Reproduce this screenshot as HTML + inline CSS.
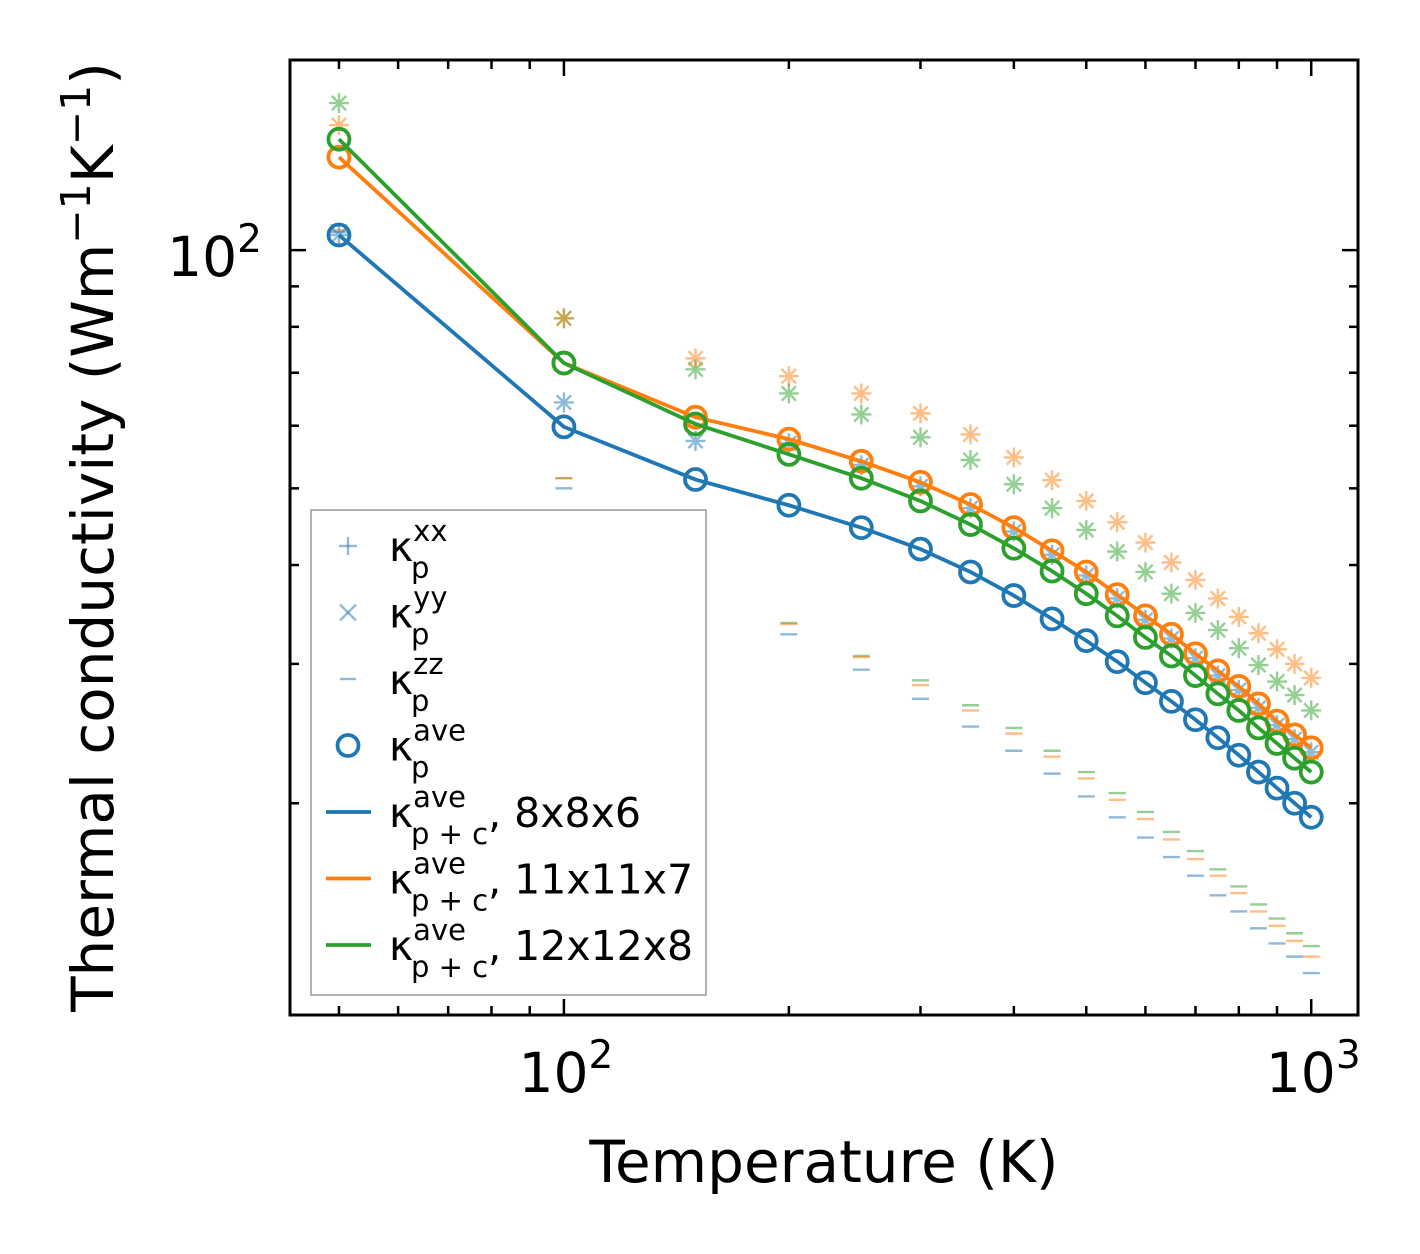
<!DOCTYPE html>
<html><head><meta charset="utf-8"><style>
body{margin:0;background:#fff}
svg{display:block;font-family:"DejaVu Sans","Liberation Sans",sans-serif}
</style></head><body>
<svg id="chart" width="1420" height="1254" viewBox="0 0 1420 1254" xmlns="http://www.w3.org/2000/svg">
<rect width="1420" height="1254" fill="#fff"/>
<g id="marks"></g>
<rect x="290" y="60" width="1068" height="955" fill="none" stroke="#000" stroke-width="3"/>
<g id="ticks"></g>
<text x="824" y="1182" font-size="58" text-anchor="middle">Temperature (K)</text>
<text transform="translate(113,537) rotate(-90)" font-size="58" text-anchor="middle">Thermal conductivity (Wm<tspan dy="-23" font-size="41">−1</tspan><tspan dy="23">K</tspan><tspan dy="-23" font-size="41">−1</tspan><tspan dy="23">)</tspan></text>
<g id="legend"></g>
</svg>
<script>
const temps=[50,100,150,200,250,300,350,400,450,500,550,600,650,700,750,800,850,900,950,1000];
const aveBlue=[104.5,59.8,51.3,47.6,44.6,41.9,39.2,36.6,34.2,32.1,30.2,28.4,26.9,25.5,24.2,23.0,21.9,20.9,20.0,19.2];
const aveOrange=[131.1,72.0,61.5,57.7,54.1,50.9,47.7,44.6,41.7,39.2,36.7,34.5,32.7,30.9,29.4,28.1,26.7,25.4,24.4,23.5];
const aveGreen=[138.1,72.0,60.3,55.2,51.5,48.2,45.0,42.0,39.3,36.8,34.5,32.4,30.7,29.0,27.5,26.2,24.9,23.8,22.8,21.9];
const xyBlue=[104.5,64.2,57.4,57.0,53.5,50.3,47.2,44.1,41.2,38.8,36.3,34.1,32.3,30.5,29.0,27.8,26.4,25.1,24.1,23.2];
const xyOrange=[143.9,82.0,73.0,69.3,65.9,62.2,58.5,54.7,51.2,48.2,45.3,42.7,40.3,38.3,36.3,34.4,32.8,31.3,30.0,28.8];
const xyGreen=[153.4,82.0,70.7,65.9,62.0,58.0,54.3,50.6,47.2,44.3,41.6,39.2,36.8,34.8,33.1,31.4,29.9,28.5,27.4,26.2];
const zzBlue=[105.4,50.0,37.9,32.7,29.5,27.1,25.0,23.3,21.8,20.4,19.2,18.1,17.1,16.2,15.3,14.6,13.9,13.3,12.8,12.2];
const zzOrange=[106.0,51.5,38.7,33.7,30.6,28.2,26.2,24.5,22.9,21.5,20.2,19.1,18.0,17.0,16.2,15.4,14.6,14.0,13.4,12.8];
const zzGreen=[107.5,51.5,39.1,33.8,30.7,28.6,26.6,24.9,23.3,21.9,20.6,19.5,18.4,17.4,16.5,15.7,14.9,14.3,13.7,13.2];
const xMinorTicks=[50,60,70,80,90,200,300,400,500,600,700,800,900];
const xMajorTicks=[100,1000];
const yMinorTicks=[20,30,40,50,60,70,80,90];
const yMajorTicks=[100];

const NS="http://www.w3.org/2000/svg";
const X0=290,X1=1358,Y0=60,Y1=1015;
const xLo=Math.log10(43.0),xHi=Math.log10(1155);
const yLo=Math.log10(10.8),yHi=Math.log10(173.9);
function sx(v){return X0+(Math.log10(v)-xLo)/(xHi-xLo)*(X1-X0);}
function sy(v){return Y1-(Math.log10(v)-yLo)/(yHi-yLo)*(Y1-Y0);}
function mk(tag,attrs,parent){const e=document.createElementNS(NS,tag);for(const k in attrs)e.setAttribute(k,attrs[k]);parent.appendChild(e);return e;}
const C={b:"#1f77b4",o:"#ff7f0e",g:"#2ca02c"};
const marks=document.getElementById('marks');
const clip=mk('clipPath',{id:'clp'},marks);mk('rect',{x:X0,y:Y0,width:X1-X0,height:Y1-Y0},clip);
const pg=mk('g',{'clip-path':'url(#clp)'},marks);

function star(x,y,c,g,name){
  const s=mk('g',{stroke:c,'stroke-width':2.4,opacity:0.5},g);
  
  
  const r=10;
  mk('line',{x1:x-r,y1:y,x2:x+r,y2:y},s);
  mk('line',{x1:x,y1:y-r,x2:x,y2:y+r},s);
  mk('line',{x1:x-r*0.72,y1:y-r*0.72,x2:x+r*0.72,y2:y+r*0.72},s);
  mk('line',{x1:x-r*0.72,y1:y+r*0.72,x2:x+r*0.72,y2:y-r*0.72},s);
}
function dash(x,y,c,g,name){
  const d=mk('line',{x1:x-8.5,y1:y,x2:x+8.5,y2:y,stroke:c,'stroke-width':2.4,opacity:0.5},g);
  
  
}
const series=[['green',C.g,xyGreen,zzGreen],['orange',C.o,xyOrange,zzOrange],['blue',C.b,xyBlue,zzBlue]];
series.forEach(([n,c,xy,zz])=>{
  temps.forEach((t,i)=>{star(sx(t),sy(xy[i]),c,pg,'kappa-xy-'+n);dash(sx(t),sy(zz[i]),c,pg,'kappa-zz-'+n);});
});
const lines=[['blue',C.b,aveBlue],['orange',C.o,aveOrange],['green',C.g,aveGreen]];
lines.forEach(([n,c,v])=>{
  const p=mk('polyline',{points:temps.map((t,i)=>sx(t)+','+sy(v[i])).join(' '),fill:'none',stroke:c,'stroke-width':3.8},pg);
  
  
  temps.forEach((t,i)=>{
    const ci=mk('circle',{cx:sx(t),cy:sy(v[i]),r:10.5,fill:'none',stroke:c,'stroke-width':3.8},pg);
    
    
  });
});

const tk=document.getElementById('ticks');
function xt(v,len){const x=sx(v);mk('line',{x1:x,y1:Y1,x2:x,y2:Y1-len,stroke:'#000','stroke-width':2.5},tk);mk('line',{x1:x,y1:Y0,x2:x,y2:Y0+len,stroke:'#000','stroke-width':2.5},tk);}
function yt(v,len){const y=sy(v);mk('line',{x1:X0,y1:y,x2:X0+len,y2:y,stroke:'#000','stroke-width':2.5},tk);mk('line',{x1:X1,y1:y,x2:X1-len,y2:y,stroke:'#000','stroke-width':2.5},tk);}
xMinorTicks.forEach(v=>xt(v,9));xMajorTicks.forEach(v=>xt(v,16));
yMinorTicks.forEach(v=>yt(v,9));yMajorTicks.forEach(v=>yt(v,16));
xMajorTicks.forEach(v=>{
  const t=mk('text',{x:sx(v)+2,y:1092,'font-size':55,'text-anchor':'middle'},tk);
  
  
  t.innerHTML='10<tspan dy="-24" font-size="39">'+Math.round(Math.log10(v))+'</tspan>';
});
yMajorTicks.forEach(v=>{
  const t=mk('text',{x:262,y:sy(v)+26,'font-size':55,'text-anchor':'end'},tk);
  
  
  t.innerHTML='10<tspan dy="-24" font-size="39">'+Math.round(Math.log10(v))+'</tspan>';
});

const lg=document.getElementById('legend');
mk('rect',{x:311,y:510,width:395,height:485,fill:'#fff',stroke:'#999','stroke-width':1.5},lg);
const items=[
 ['plus','xx','',''],['x','yy','',''],['minus','zz','',''],['circle','ave','',''],
 ['lb','ave','p + c',', 8x8x6'],['lo','ave','p + c',', 11x11x7'],['lg','ave','p + c',', 12x12x8']];
items.forEach((it,i)=>{
  const y=546+i*66.5;
  const g=mk('g',{},lg);
  
  
  const mx=348,lc='rgba(31,119,180,0.5)';
  if(it[0]==='plus'){mk('line',{x1:mx-9,y1:y,x2:mx+9,y2:y,stroke:lc,'stroke-width':2.4},g);mk('line',{x1:mx,y1:y-9,x2:mx,y2:y+9,stroke:lc,'stroke-width':2.4},g);}
  else if(it[0]==='x'){mk('line',{x1:mx-8,y1:y-8,x2:mx+8,y2:y+8,stroke:lc,'stroke-width':2.4},g);mk('line',{x1:mx-8,y1:y+8,x2:mx+8,y2:y-8,stroke:lc,'stroke-width':2.4},g);}
  else if(it[0]==='minus'){mk('line',{x1:mx-8,y1:y,x2:mx+8,y2:y,stroke:lc,'stroke-width':2.4},g);}
  else if(it[0]==='circle'){mk('circle',{cx:mx,cy:y,r:10.5,fill:'none',stroke:C.b,'stroke-width':3.8},g);}
  else{const c={lb:C.b,lo:C.o,lg:C.g}[it[0]];mk('line',{x1:326,y1:y,x2:371,y2:y,stroke:c,'stroke-width':3.8},g);}
  const t=mk('text',{x:389,y:y+15,'font-size':41},g);
  let sub=it[2]?it[2]:'p';
  t.innerHTML='κ<tspan font-size="29" dy="-20">'+it[1]+'</tspan><tspan font-size="29" x="411" dy="37">'+sub+'</tspan>'+(it[3]?'<tspan dy="-17" font-size="41">'+it[3]+'</tspan>':'');
});
</script>
</body></html>
